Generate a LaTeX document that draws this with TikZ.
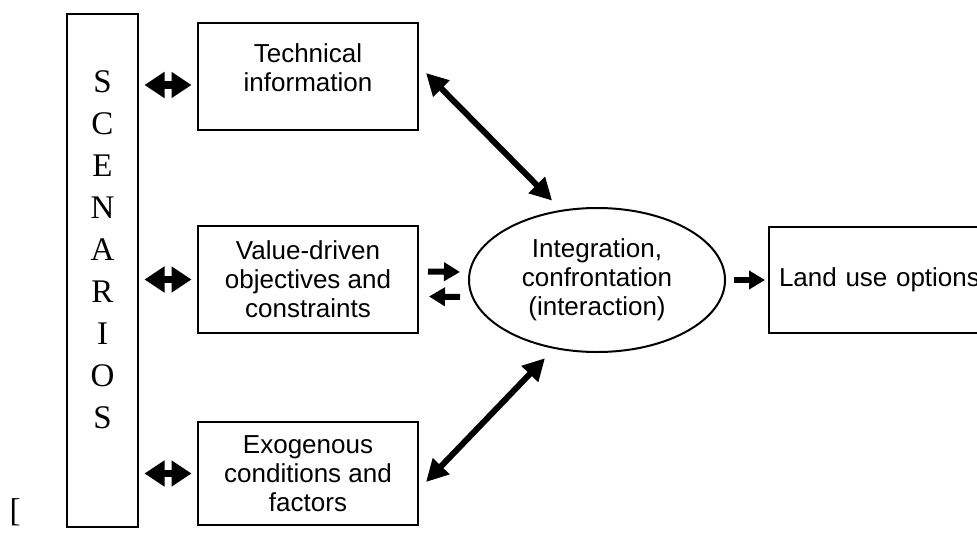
\documentclass[tikz,border=0pt]{standalone}
\usepackage{fontspec}
\setmainfont{Liberation Sans}
\newfontfamily\serifletters{Liberation Serif}
\usetikzlibrary{arrows.meta,shapes.geometric}

\begin{document}
\begin{tikzpicture}[x=0.5pt,y=-0.5pt,
    box/.style={draw, line width=1pt},
    txt/.style={align=center, font=\fontsize{13pt}{14.5pt}\selectfont},
    bigletters/.style={align=center, inner sep=0pt, font=\serifletters\fontsize{16.5pt}{21pt}\selectfont},
    duoarrow/.style={line width=3.5pt, {Triangle[length=10pt,width=12.5pt]}-{Triangle[length=10pt,width=12.5pt]}, shorten <=2.75pt, shorten >=2.75pt},
    smallarrow/.style={line width=3pt, -{Triangle[length=8pt,width=9pt]}},
    diagarrow/.style={line width=3pt, {Triangle[length=11pt,width=11pt]}-{Triangle[length=11pt,width=11pt]}}]

    \useasboundingbox (0,0) rectangle (977,535);
    \clip (0,0) rectangle (977,535);

    \node[box, minimum width=35.5pt, minimum height=256.5pt] (scen) at (102.5,270.5) {};
    \node[bigletters] (scenlbl) at (102.5,250) {S\\C\\E\\N\\A\\R\\I\\O\\S};

    \node[box, minimum width=110pt, minimum height=53.5pt] (tech) at (308,76.5) {};
    \node[txt] (techlbl) at (308,68) {Technical\\information};
    \node[box, txt, minimum width=110pt, minimum height=53.5pt] (val) at (308,279.5) {Value-driven\\objectives and\\constraints};
    \node[box, txt, minimum width=110pt, minimum height=51.5pt] (exo) at (308,473.5) {Exogenous\\conditions and\\factors};

    \node[box, txt, ellipse, minimum width=128pt, minimum height=72pt] (integ) at (597,280) {Integration,\\confrontation\\(interaction)};
    \node[box, txt, anchor=west, align=left, text width=120pt, inner xsep=5pt, minimum height=53pt] (land) at (768,280) {Land use options};

    \node[bigletters] (stray) at (15,512) {[};

    \coordinate (techarr) at ([yshift=-4.25pt]tech.west);
    \draw[duoarrow] (techarr -| scen.east) -- (techarr);
    \draw[duoarrow] (scen.east |- val.west) -- (val.west);
    \draw[duoarrow] (scen.east |- exo.west) -- (exo.west);

    \draw[smallarrow] ([shift={(4.5pt,4pt)}]val.east) -- ([shift={(-4pt,4pt)}]integ.west);
    \draw[smallarrow] ([shift={(-4pt,-8.5pt)}]integ.west) -- ([shift={(5pt,-8.5pt)}]val.east);
    \draw[smallarrow] ([xshift=4pt]integ.east) -- ([xshift=-1.5pt]land.west);

    \coordinate (techdiag) at ([shift={(3.5pt,1.75pt)}]tech.east);
    \coordinate (exodiag) at ([shift={(3.5pt,-4.25pt)}]exo.east);
    \draw[diagarrow, shorten >=6.5pt] (techdiag) -- (integ.117);
    \draw[diagarrow, shorten >=6.5pt] (exodiag) -- (integ.238);

\end{tikzpicture}
\end{document}
